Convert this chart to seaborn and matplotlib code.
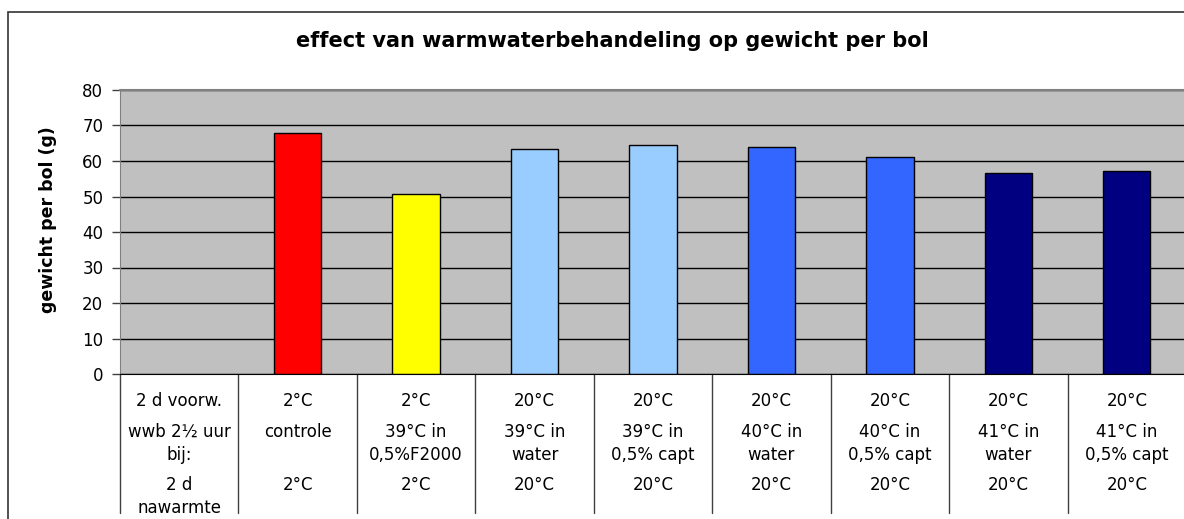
import matplotlib
matplotlib.use('Agg')
import matplotlib.pyplot as plt
import matplotlib.patches as patches
import seaborn as sns
import pandas as pd

# data
categories = ['blank', 'controle', '39 F2000', '39 water', '39 capt',
              '40 water', '40 capt', '41 water', '41 capt']
bar_categories = categories[1:]
weights = [68.0, 50.6, 63.3, 64.6, 63.9, 61.2, 56.5, 57.1]
bar_colors = ['#FF0000', '#FFFF00', '#99CCFF', '#99CCFF',
              '#3366FF', '#3366FF', '#000080', '#000080']

row_voorw = ['2 d voorw.', '2°C', '2°C', '20°C', '20°C', '20°C', '20°C', '20°C', '20°C']
row_wwb = ['wwb 2½ uur\nbij:', 'controle', '39°C in\n0,5%F2000', '39°C in\nwater',
           '39°C in\n0,5% capt', '40°C in\nwater', '40°C in\n0,5% capt',
           '41°C in\nwater', '41°C in\n0,5% capt']
row_nawarmte = ['2 d\nnawarmte', '2°C', '2°C', '20°C', '20°C', '20°C', '20°C', '20°C', '20°C']

df = pd.DataFrame({'behandeling': bar_categories, 'gewicht': weights})

sns.set_style('white')
plt.rcParams['font.family'] = ['DejaVu Sans']
plt.rcParams['text.color'] = 'black'
plt.rcParams['axes.labelcolor'] = 'black'
plt.rcParams['ytick.color'] = 'black'

W, H = 1184, 519
fig = plt.figure(figsize=(W / 100, H / 100), dpi=100, facecolor='white')
ax = fig.add_axes([120 / W, (H - 374) / H, (1186 - 120) / W, (374 - 90) / H])
ax.set_facecolor('#C0C0C0')

sns.barplot(data=df, x='behandeling', y='gewicht', hue='behandeling',
            order=categories, hue_order=bar_categories, palette=bar_colors,
            saturation=1, width=0.4, edgecolor='black', linewidth=1,
            legend=False, ax=ax)

ax.set_ylim(0, 80)
ax.set_xlim(-0.5, len(categories) - 0.5)
ax.set_yticks(range(0, 81, 10))
ax.yaxis.grid(True, color='black', linewidth=1)
ax.set_axisbelow(True)
ax.tick_params(axis='y', which='both', left=True, length=6, width=1,
               color='#404040', labelsize=12, pad=6)
ax.set_xticks([])
ax.set_xlabel('')
ax.set_ylabel('gewicht per bol (g)', fontsize=12.5, fontweight='bold')
ax.yaxis.set_label_coords((57 - 120) / 1066, (374 - 220) / 284)
for s in ['top', 'right']:
    ax.spines[s].set_visible(False)
ax.spines['left'].set_color('#808080')
ax.spines['bottom'].set_color('black')
ax.axhline(80, color='#808080', linewidth=1.5, clip_on=False)

# table below the axis
trans = ax.get_xaxis_transform()
px = 1 / (374 - 90)
for i in range(len(categories)):
    ax.plot([i - 0.5, i - 0.5], [0, -(513 - 374) * px], color='#404040',
            linewidth=1, transform=trans, clip_on=False)
    ax.text(i, -(392 - 374) * px, row_voorw[i], ha='center', va='top',
            fontsize=12, transform=trans)
    ax.text(i, -(423 - 374) * px, row_wwb[i], ha='center', va='top',
            fontsize=12, linespacing=1.35, transform=trans)
    ax.text(i, -(476 - 374) * px, row_nawarmte[i], ha='center', va='top',
            fontsize=12, linespacing=1.35, transform=trans)

fig.text(612 / W, 1 - 41 / H, 'effect van warmwaterbehandeling op gewicht per bol',
         ha='center', va='center', fontsize=15, fontweight='bold')

fig.patches.append(patches.Rectangle((8 / W, -0.1), 1.2, 1 - 12 / H + 0.1,
                                     fill=False, edgecolor='#333333', linewidth=1.2,
                                     transform=fig.transFigure, figure=fig))

fig.savefig('out.png', dpi=100)
